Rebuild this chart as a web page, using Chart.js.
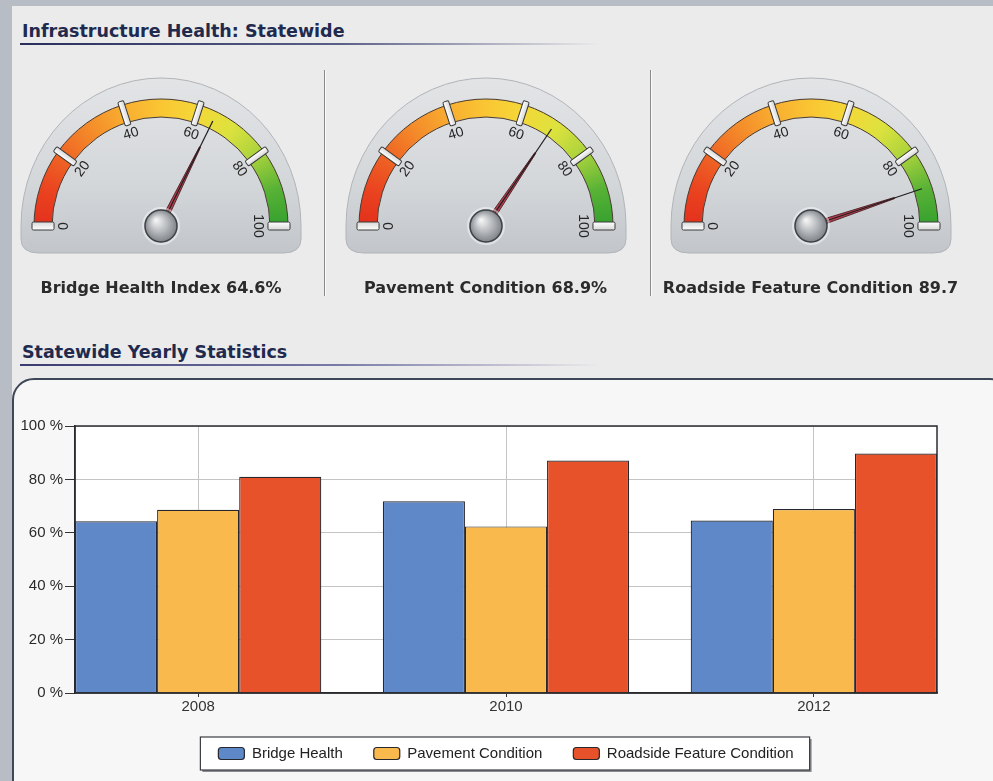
<!DOCTYPE html>
<html>
<head>
<meta charset="utf-8">
<script src="https://cdn.jsdelivr.net/npm/chart.js@4.4.1/dist/chart.umd.min.js"></script>
<style>
  html, body { margin: 0; padding: 0; }
  body {
    width: 993px; height: 781px; position: relative; overflow: hidden;
    background: #b8bcc4; font-family: "DejaVu Sans", sans-serif;
  }
  #panel { position: absolute; left: 12px; top: 6px; right: 0; bottom: 0; background: #ebebeb; }
  .title {
    position: absolute; left: 22px; line-height: 22px;
    font-weight: bold; font-size: 17.5px; color: #1f2a4e; white-space: nowrap;
  }
  .rule { position: absolute; left: 20px; width: 580px; height: 2px; }
  .divider {
    position: absolute; top: 70px; width: 1px; height: 226px;
    background: #8a8a8a; box-shadow: 1px 0 0 #fafafa;
  }
  .gauge { position: absolute; top: 50px; width: 320px; height: 230px; }
  .gaugeLabel {
    position: absolute; top: 278px; width: 320px; text-align: center; white-space: nowrap;
    font-weight: bold; font-size: 16px; line-height: 20px; color: #2b2b2b;
  }
  #statsBox {
    position: absolute; left: 12px; top: 378px; width: 1000px; height: 440px;
    box-sizing: border-box; border: 2px solid #3e4658; border-radius: 22px; background: #f7f7f7;
  }
  #barChart { position: absolute; left: 12px; top: 380px; }
</style>
</head>
<body>
<div id="panel"></div>

<div class="title" style="top:20px">Infrastructure Health: Statewide</div>
<div class="rule" style="top:43px;background:linear-gradient(90deg,#2a2f5a 0%,#5a5f88 55%,rgba(200,200,215,0) 100%)"></div>

<div class="divider" style="left:324px"></div>
<div class="divider" style="left:650px"></div>

<div id="gauges"></div>

<div class="title" style="top:341px">Statewide Yearly Statistics</div>
<div class="rule" style="top:364px;background:linear-gradient(90deg,#3a3a70 0%,#7a7aa8 55%,rgba(210,210,225,0) 100%)"></div>

<div id="statsBox"></div>
<canvas id="barChart" width="981" height="401"></canvas>

<script>
// gauge data
const gaugeNames = ["Bridge Health Index", "Pavement Condition", "Roadside Feature Condition"];
const gaugeValues = [64.6, 68.9, 89.7];
const gaugeUnits = ["%", "%", ""];
const gaugeBands = [20, 20, 20, 20, 20];
const gaugeTicks = [0, 20, 40, 60, 80, 100];

// yearly statistics data
const years = ["2008", "2010", "2012"];
const seriesNames = ["Bridge Health", "Pavement Condition", "Roadside Feature Condition"];
const bridgeHealth = [64.3, 71.8, 64.6];
const pavementCondition = [68.6, 62.4, 68.9];
const roadsideCondition = [81.0, 87.1, 89.7];
const seriesColors = ["#5f88c8", "#f9b94c", "#e8522a"];
const yTicks = [0, 20, 40, 60, 80, 100];

const $ = (id) => document.getElementById(id);

Chart.defaults.font.family = "'Liberation Sans', Arial, sans-serif";

const gaugeCenters = [161, 485.5, 810.5];
const R = 127;

function bandGradient(chart) {
  const a = chart.chartArea;
  if (!a) return "#f0a030";
  const cx = (a.left + a.right) / 2;
  const cy = (a.top + a.bottom) / 2 + R / 2;
  const g = chart.ctx.createConicGradient(Math.PI, cx, cy);
  g.addColorStop(0, "#e3301c");
  g.addColorStop(0.05, "#ea4420");
  g.addColorStop(0.1, "#ef6624");
  g.addColorStop(0.15, "#f48c2a");
  g.addColorStop(0.2, "#f8ae30");
  g.addColorStop(0.25, "#fac633");
  g.addColorStop(0.3, "#f4d838");
  g.addColorStop(0.35, "#dce23e");
  g.addColorStop(0.4, "#a8d23c");
  g.addColorStop(0.45, "#58b236");
  g.addColorStop(0.5, "#34a02e");
  g.addColorStop(1, "#34a02e");
  return g;
}

function drawDome(ctx, x, y) {
  const rx = 140, ry = 148, bottom = y + 27;
  ctx.save();
  ctx.beginPath();
  ctx.moveTo(x - rx, y);
  ctx.ellipse(x, y, rx, ry, 0, Math.PI, 2 * Math.PI);
  ctx.lineTo(x + rx, bottom - 14);
  ctx.quadraticCurveTo(x + rx, bottom, x + rx - 18, bottom);
  ctx.lineTo(x - rx + 18, bottom);
  ctx.quadraticCurveTo(x - rx, bottom, x - rx, bottom - 14);
  ctx.closePath();
  const g = ctx.createLinearGradient(0, y - ry, 0, bottom);
  g.addColorStop(0, "#e2e4e6");
  g.addColorStop(0.6, "#d4d7da");
  g.addColorStop(1, "#c2c6ca");
  ctx.fillStyle = g;
  ctx.fill();
  ctx.strokeStyle = "#b0b4b8";
  ctx.lineWidth = 1;
  ctx.stroke();
  ctx.restore();
}

function drawNotch(ctx, x, y, a, r0, r1, w) {
  ctx.save();
  ctx.translate(x, y);
  ctx.rotate(a);
  ctx.beginPath();
  ctx.roundRect(r0, -w / 2, r1 - r0, w, 1.5);
  const g = ctx.createLinearGradient(0, -w / 2, 0, w / 2);
  g.addColorStop(0, "#ffffff");
  g.addColorStop(1, "#d8d8d8");
  ctx.fillStyle = g;
  ctx.fill();
  ctx.strokeStyle = "#3a3a3a";
  ctx.lineWidth = 1;
  ctx.stroke();
  ctx.restore();
}

function drawNeedle(ctx, x, y, a, len) {
  ctx.save();
  ctx.translate(x, y);
  ctx.rotate(a);
  ctx.beginPath();
  ctx.moveTo(14, -2.6);
  ctx.lineTo(88, -0.6);
  ctx.lineTo(88, 0.6);
  ctx.lineTo(14, 2.6);
  ctx.closePath();
  ctx.fillStyle = "#b4404f";
  ctx.fill();
  ctx.strokeStyle = "#4a1a22";
  ctx.lineWidth = 0.8;
  ctx.stroke();
  ctx.beginPath();
  ctx.moveTo(14, 0);
  ctx.lineTo(len, 0);
  ctx.strokeStyle = "#1e1e1e";
  ctx.lineWidth = 1.2;
  ctx.stroke();
  ctx.restore();
}

function drawHub(ctx, x, y) {
  ctx.save();
  ctx.beginPath();
  ctx.arc(x, y, 18, 0, 2 * Math.PI);
  ctx.strokeStyle = "rgba(255,255,255,0.45)";
  ctx.lineWidth = 2;
  ctx.stroke();
  ctx.beginPath();
  ctx.arc(x, y, 16, 0, 2 * Math.PI);
  const g = ctx.createRadialGradient(x - 5, y - 6, 1, x, y, 17);
  g.addColorStop(0, "#f2f2f2");
  g.addColorStop(0.55, "#b0b4b8");
  g.addColorStop(1, "#7a7e82");
  ctx.fillStyle = g;
  ctx.fill();
  ctx.strokeStyle = "#3e4246";
  ctx.lineWidth = 1.5;
  ctx.stroke();
  ctx.restore();
}

const gaugePlugin = {
  id: "gaugeDecor",
  beforeDatasetsDraw(chart) {
    const arc = chart.getDatasetMeta(0).data[0];
    drawDome(chart.ctx, arc.x, arc.y);
  },
  afterDatasetsDraw(chart) {
    const ctx = chart.ctx;
    const arcs = chart.getDatasetMeta(0).data;
    const { x, y, innerRadius, outerRadius } = arcs[0];
    const angles = arcs.map((a) => a.startAngle).concat(arcs[arcs.length - 1].endAngle);

    angles.forEach((a, i) => {
      const isEnd = i === 0 || i === angles.length - 1;
      if (isEnd) drawNotch(ctx, x, y, a, innerRadius - 2, outerRadius + 2, 8);
      else drawNotch(ctx, x, y, a, innerRadius - 3, outerRadius + 4, 6);

      ctx.save();
      ctx.translate(x + Math.cos(a) * 97, y + Math.sin(a) * 97);
      ctx.rotate(a + Math.PI / 2);
      ctx.font = "14px 'Liberation Sans', Arial, sans-serif";
      ctx.fillStyle = "#262626";
      ctx.textAlign = "center";
      ctx.textBaseline = "middle";
      ctx.fillText(String(gaugeTicks[i]), 0, 0);
      ctx.restore();
    });

    const needle = chart.getDatasetMeta(1).data[0];
    drawNeedle(ctx, x, y, needle.endAngle, outerRadius - 10);
    drawHub(ctx, x, y);
  },
};

gaugeValues.forEach((value, i) => {
  const cx = gaugeCenters[i];
  const canvas = document.createElement("canvas");
  canvas.className = "gauge";
  canvas.width = 320;
  canvas.height = 230;
  canvas.style.left = `${cx - 160}px`;
  $("gauges").appendChild(canvas);

  const label = document.createElement("div");
  label.className = "gaugeLabel";
  label.style.left = `${cx - 160}px`;
  label.textContent = `${gaugeNames[i]} ${value}${gaugeUnits[i]}`;
  $("gauges").appendChild(label);

  new Chart(canvas, {
    type: "doughnut",
    data: {
      datasets: [
        {
          data: gaugeBands,
          backgroundColor: (c) => bandGradient(c.chart),
          borderColor: "#4a3a30",
          borderWidth: 1,
        },
        {
          data: [value, 100 - value],
          backgroundColor: "rgba(0,0,0,0)",
          borderWidth: 0,
          weight: 0,
        },
      ],
    },
    options: {
      responsive: false,
      animation: false,
      events: [],
      rotation: -90,
      circumference: 180,
      radius: R,
      cutout: "85.8%",
      layout: { padding: { left: 33, right: 33, top: 49, bottom: 54 } },
      plugins: { legend: { display: false }, tooltip: { enabled: false } },
    },
    plugins: [gaugePlugin],
  });
});

const seriesValues = [bridgeHealth, pavementCondition, roadsideCondition];

const framePlugin = {
  id: "plotFrame",
  beforeDraw(chart) {
    const ctx = chart.ctx;
    const a = chart.chartArea;
    ctx.save();
    ctx.fillStyle = "#ffffff";
    ctx.fillRect(a.left, a.top, a.right - a.left, a.bottom - a.top);

    // legend frame
    const boxes = chart.legend.legendHitBoxes;
    if (boxes && boxes.length) {
      const left = Math.min(...boxes.map((b) => b.left)) - 18;
      const right = Math.max(...boxes.map((b) => b.left + b.width)) + 16;
      const top = boxes[0].top - 9;
      const bottom = boxes[0].top + boxes[0].height + 9;
      ctx.fillStyle = "#8a8c90";
      ctx.fillRect(left + 2, top + 2, right - left, bottom - top);
      ctx.fillStyle = "#ffffff";
      ctx.fillRect(left, top, right - left, bottom - top);
      ctx.strokeStyle = "#3a3c42";
      ctx.lineWidth = 1.2;
      ctx.strokeRect(left, top, right - left, bottom - top);
    }
    ctx.restore();
  },
  afterDatasetsDraw(chart) {
    const ctx = chart.ctx;
    const a = chart.chartArea;
    ctx.save();
    ctx.strokeStyle = "#2a2c32";
    ctx.lineWidth = 1.5;
    ctx.strokeRect(a.left, a.top, a.right - a.left, a.bottom - a.top);
    ctx.restore();
  },
};

new Chart($("barChart"), {
  type: "bar",
  data: {
    datasets: seriesNames.map((name, s) => ({
      label: name,
      data: seriesValues[s].map((v, i) => ({ x: i, y: v })),
      backgroundColor: seriesColors[s],
      borderColor: "#26282e",
      borderWidth: 1.2,
      categoryPercentage: 0.8,
      barPercentage: 1,
    })),
  },
  options: {
    responsive: false,
    animation: false,
    events: [],
    layout: { padding: { top: 46, right: 56, bottom: 10, left: 0 } },
    scales: {
      x: {
        type: "linear",
        offset: false,
        min: -0.4,
        max: 2.4,
        afterBuildTicks: (scale) => {
          scale.ticks = years.map((_, i) => ({ value: i }));
        },
        afterFit: (scale) => {
          scale.height = 22;
        },
        ticks: {
          callback: (v) => years[v],
          font: { size: 15 },
          color: "#333333",
          padding: 1,
          maxRotation: 0,
        },
        grid: { offset: false, color: "#c4c4c4", tickLength: 4, tickColor: "#333333" },
        border: { color: "#222222", width: 1.5 },
      },
      y: {
        min: 0,
        max: 100,
        afterBuildTicks: (scale) => {
          scale.ticks = yTicks.map((v) => ({ value: v }));
        },
        afterFit: (scale) => {
          scale.width = 63;
        },
        ticks: {
          callback: (v) => `${v} %`,
          font: { size: 15 },
          color: "#2a2a2a",
          padding: 2,
        },
        grid: { color: "#c4c4c4", tickLength: 10, tickColor: "#333333" },
        border: { color: "#222222", width: 1.5 },
      },
    },
    plugins: {
      legend: {
        position: "bottom",
        fullSize: false,
        labels: {
          boxWidth: 26,
          boxHeight: 12,
          useBorderRadius: true,
          borderRadius: 3,
          padding: 31,
          font: { size: 15 },
          color: "#222222",
        },
      },
      tooltip: { enabled: false },
    },
  },
  plugins: [framePlugin],
});
</script>
</body>
</html>
